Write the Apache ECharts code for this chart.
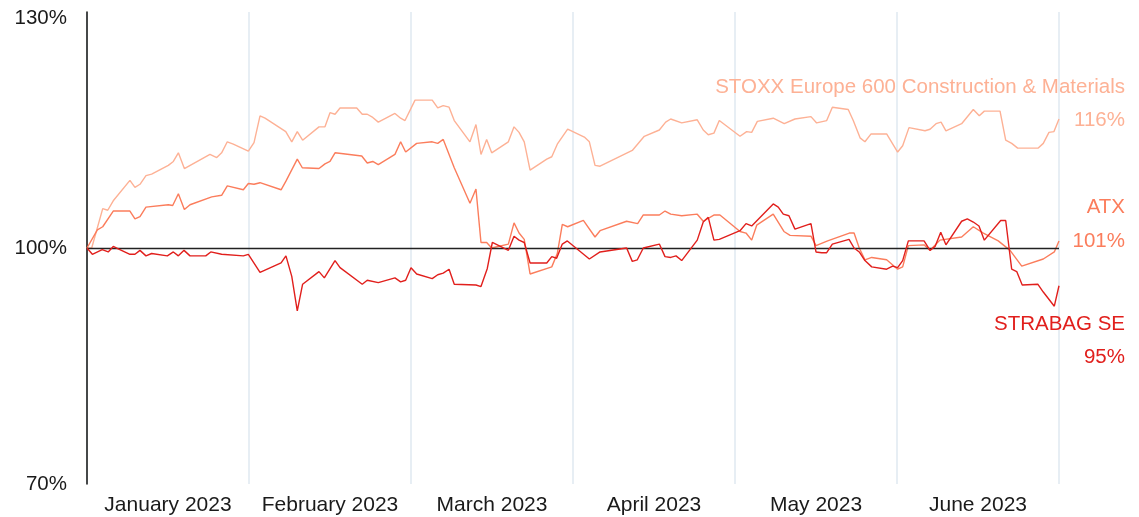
<!DOCTYPE html>
<html>
<head>
<meta charset="utf-8">
<script src="https://cdn.jsdelivr.net/npm/echarts@6/dist/echarts.min.js"></script>
<style>
  html, body { margin: 0; padding: 0; background: #fff; }
  #chart { width: 1139px; height: 517px; }
</style>
</head>
<body>
<div id="chart"></div>
<script>
// x = position in months since 1 Jan 2023 (0..6), y = performance in %
var months = ['January 2023', 'February 2023', 'March 2023', 'April 2023', 'May 2023', 'June 2023'];
var yTicks = [70, 100, 130];

var stoxx = [
  [0, 100], [0.029, 100], [0.097, 105.0], [0.128, 104.8], [0.162, 106.0], [0.265, 108.6], [0.296, 107.7],
  [0.327, 108.1], [0.364, 109.2], [0.399, 109.4], [0.502, 110.5], [0.533, 111.0], [0.564, 112.1], [0.601, 110.1],
  [0.759, 111.9], [0.801, 111.5], [0.831, 112.1], [0.866, 113.5], [0.903, 113.2], [0.996, 112.3], [1.031, 113.4],
  [1.068, 116.8], [1.099, 116.5], [1.227, 114.8], [1.264, 113.5], [1.298, 114.8], [1.331, 113.7], [1.432, 115.4],
  [1.469, 115.4], [1.5, 117.2], [1.531, 117.0], [1.562, 117.8], [1.665, 117.8], [1.699, 117.0], [1.730, 117.0],
  [1.764, 116.6], [1.798, 116.0], [1.901, 117.1], [1.936, 116.5], [1.963, 116.2], [2.025, 118.8], [2.131, 118.8],
  [2.165, 117.8], [2.199, 118.1], [2.235, 117.9], [2.267, 116.2], [2.364, 113.5], [2.401, 115.7], [2.432, 111.9],
  [2.467, 113.8], [2.498, 112.1], [2.601, 113.5], [2.636, 115.4], [2.667, 114.7], [2.699, 113.5], [2.735, 109.9],
  [2.838, 111.3], [2.869, 111.6], [2.903, 113.2], [2.967, 115.1], [3.070, 114.1], [3.101, 113.5], [3.136, 110.5],
  [3.167, 110.4], [3.366, 112.4], [3.440, 114.2], [3.533, 115.0], [3.572, 116.0], [3.603, 116.4], [3.671, 115.9],
  [3.767, 116.3], [3.804, 115.0], [3.835, 114.4], [3.870, 114.6], [3.903, 116.2], [4.031, 114.2], [4.072, 114.8],
  [4.103, 114.7], [4.138, 116.1], [4.236, 116.5], [4.304, 115.8], [4.370, 116.4], [4.469, 116.7], [4.504, 115.9],
  [4.566, 116.2], [4.601, 117.9], [4.699, 117.6], [4.730, 116.2], [4.772, 114.0], [4.802, 113.5], [4.840, 114.5],
  [4.936, 114.5], [5.004, 112.2], [5.035, 113.0], [5.074, 115.3], [5.173, 114.9], [5.204, 115.1], [5.241, 115.8],
  [5.272, 116.0], [5.302, 114.9], [5.399, 115.8], [5.471, 117.6], [5.508, 116.8], [5.539, 117.4], [5.636, 117.4],
  [5.671, 113.7], [5.708, 113.3], [5.745, 112.7], [5.872, 112.7], [5.903, 113.3], [5.938, 114.7], [5.969, 114.8],
  [6.0, 116.4]
];

var atx = [
  [0, 100], [0.064, 102.3], [0.097, 102.7], [0.162, 104.7], [0.265, 104.7], [0.296, 103.7], [0.327, 104.0],
  [0.364, 105.2], [0.502, 105.5], [0.529, 105.4], [0.564, 106.9], [0.601, 104.9], [0.636, 105.5], [0.770, 106.5],
  [0.831, 106.7], [0.866, 107.9], [0.965, 107.4], [0.996, 108.2], [1.031, 108.1], [1.068, 108.3], [1.198, 107.4],
  [1.228, 108.5], [1.298, 111.3], [1.329, 110.2], [1.432, 110.1], [1.469, 110.7], [1.5, 111.0], [1.531, 112.1],
  [1.696, 111.7], [1.730, 110.8], [1.764, 111.0], [1.798, 110.6], [1.901, 111.9], [1.936, 113.5], [1.967, 112.2],
  [2.035, 113.3], [2.131, 113.5], [2.165, 113.3], [2.199, 113.8], [2.267, 110.2], [2.364, 105.7], [2.401, 107.5],
  [2.432, 100.7], [2.467, 100.7], [2.498, 100.0], [2.601, 100.5], [2.636, 103.2], [2.667, 101.9], [2.699, 101.1],
  [2.735, 96.7], [2.869, 97.6], [2.903, 99.3], [2.934, 103.0], [2.967, 102.7], [3.064, 103.5], [3.136, 101.4],
  [3.167, 102.2], [3.331, 103.4], [3.399, 103.1], [3.434, 104.2], [3.533, 104.2], [3.568, 104.7], [3.603, 104.3],
  [3.671, 104.1], [3.767, 104.3], [3.804, 103.4], [3.872, 104.2], [3.907, 104.2], [4.031, 102.1], [4.068, 101.9],
  [4.103, 101.0], [4.134, 102.9], [4.236, 104.3], [4.302, 102.1], [4.340, 101.6], [4.469, 101.5], [4.500, 100.3],
  [4.572, 100.9], [4.706, 101.9], [4.735, 101.9], [4.767, 100.0], [4.802, 98.5], [4.844, 98.8], [4.936, 98.5],
  [5.004, 97.3], [5.035, 97.6], [5.070, 100.3], [5.167, 100.4], [5.204, 99.7], [5.265, 101.0], [5.399, 101.4],
  [5.471, 102.7], [5.533, 101.9], [5.625, 100.9], [5.698, 99.7], [5.770, 97.7], [5.903, 98.6], [5.971, 99.5],
  [6.0, 100.9]
];

var strabag = [
  [0, 100], [0.033, 99.2], [0.094, 99.8], [0.131, 99.5], [0.162, 100.2], [0.193, 99.9], [0.265, 99.2],
  [0.296, 99.2], [0.327, 99.7], [0.364, 99.0], [0.399, 99.3], [0.496, 99.0], [0.533, 99.5], [0.564, 99.0],
  [0.599, 99.7], [0.636, 99.0], [0.733, 99.0], [0.764, 99.5], [0.831, 99.2], [0.965, 99.0], [0.996, 99.2],
  [1.068, 96.9], [1.198, 98.1], [1.228, 99.0], [1.264, 96.4], [1.298, 92.0], [1.331, 95.4], [1.432, 97.0],
  [1.465, 96.2], [1.531, 98.4], [1.562, 97.5], [1.699, 95.4], [1.730, 95.9], [1.798, 95.6], [1.901, 96.2],
  [1.936, 95.7], [1.967, 95.9], [2.0, 97.5], [2.035, 96.7], [2.131, 96.1], [2.165, 96.6], [2.199, 96.8],
  [2.235, 97.3], [2.267, 95.4], [2.401, 95.3], [2.432, 95.1], [2.471, 97.4], [2.502, 100.7], [2.601, 99.7],
  [2.636, 101.5], [2.667, 101.0], [2.699, 100.7], [2.735, 98.1], [2.838, 98.1], [2.869, 98.9], [2.899, 98.7],
  [2.934, 100.5], [2.965, 100.9], [3.101, 98.6], [3.167, 99.5], [3.331, 100.0], [3.366, 98.3], [3.397, 98.5],
  [3.434, 100.0], [3.533, 100.5], [3.568, 98.9], [3.603, 98.8], [3.636, 99.0], [3.671, 98.4], [3.767, 101.0],
  [3.804, 103.3], [3.835, 103.9], [3.870, 101.0], [3.903, 101.1], [4.031, 102.2], [4.068, 103.1], [4.103, 102.8],
  [4.236, 105.6], [4.267, 105.2], [4.298, 104.3], [4.333, 104.1], [4.370, 102.4], [4.469, 103.1], [4.500, 99.5],
  [4.535, 99.4], [4.566, 99.4], [4.601, 100.5], [4.704, 101.1], [4.735, 100.0], [4.767, 99.5], [4.802, 98.4],
  [4.844, 97.6], [4.936, 97.3], [4.973, 97.7], [5.004, 97.5], [5.035, 98.4], [5.070, 100.9], [5.167, 100.9],
  [5.204, 99.7], [5.235, 100.2], [5.270, 102.0], [5.302, 100.4], [5.399, 103.4], [5.434, 103.7], [5.471, 103.3],
  [5.506, 102.8], [5.539, 101.0], [5.640, 103.5], [5.671, 103.5], [5.708, 97.3], [5.739, 97.0], [5.773, 95.3],
  [5.869, 95.4], [5.903, 94.4], [5.971, 92.6], [6.0, 95.2]
];

var names = ['STOXX Europe 600 Construction & Materials', 'ATX', 'STRABAG SE'];
var lastValues = ['116%', '101%', '95%'];
var colors = ['#fdb195', '#fb7d5c', '#e11f1c'];

var font = "'Liberation Sans', Arial, Helvetica, sans-serif";

var chart = echarts.init(document.getElementById('chart'), null, { renderer: 'canvas' });

// right-hand series labels
function endText(txt, y, color) {
  return {
    type: 'text', x: 1125, y: y, z: 10,
    style: { text: txt, fill: color, font: '20.5px ' + font, align: 'right', verticalAlign: 'middle' }
  };
}

var option = {
  animation: false,
  backgroundColor: '#fff',
  grid: { left: 87, right: 80, top: 12, bottom: 33 },
  xAxis: [
    {
      type: 'value', min: 0, max: 6, interval: 1,
      axisLine: { show: false }, axisTick: { show: false },
      axisLabel: { show: false },
      splitLine: { show: true, lineStyle: { color: '#dfe9f0', width: 1.5 } }
    },
    {
      type: 'category', position: 'bottom', data: months, boundaryGap: true,
      axisLine: { show: false }, axisTick: { show: false },
      axisLabel: { interval: 0, color: '#1a1a1a', fontSize: 21, fontFamily: font, margin: 11 },
      splitLine: { show: false }
    }
  ],
  yAxis: {
    type: 'value', min: yTicks[0], max: yTicks[2], interval: 30,
    axisLine: { show: true, lineStyle: { color: '#111', width: 1.5 } },
    axisTick: { show: false },
    axisLabel: {
      color: '#1a1a1a', fontSize: 20.5, fontFamily: font, margin: 20,
      formatter: function (v) { return v === yTicks[2] ? '{top|' + v + '%}' : v + '%'; },
      rich: { top: { fontSize: 20.5, fontFamily: font, color: '#1a1a1a', padding: [12, 0, 0, 0] } }
    },
    splitLine: { show: false }
  },
  series: [
    {
      name: names[0], type: 'line', data: stoxx, xAxisIndex: 0, showSymbol: false,
      lineStyle: { color: colors[0], width: 1.4 }, z: 3
    },
    {
      name: names[1], type: 'line', data: atx, xAxisIndex: 0, showSymbol: false,
      lineStyle: { color: colors[1], width: 1.4 }, z: 4
    },
    {
      name: names[2], type: 'line', data: strabag, xAxisIndex: 0, showSymbol: false,
      lineStyle: { color: colors[2], width: 1.4 }, z: 5,
      markLine: {
        silent: true, symbol: 'none', label: { show: false },
        lineStyle: { color: '#222', width: 1.4, type: 'solid' },
        data: [{ yAxis: 100 }]
      }
    }
  ],
  graphic: [
    endText(names[0], 87, colors[0]),
    endText(lastValues[0], 120, colors[0]),
    endText(names[1], 207, colors[1]),
    endText(lastValues[1], 241, colors[1]),
    endText(names[2], 324, colors[2]),
    endText(lastValues[2], 357, colors[2])
  ]
};

chart.setOption(option);
</script>
</body>
</html>
